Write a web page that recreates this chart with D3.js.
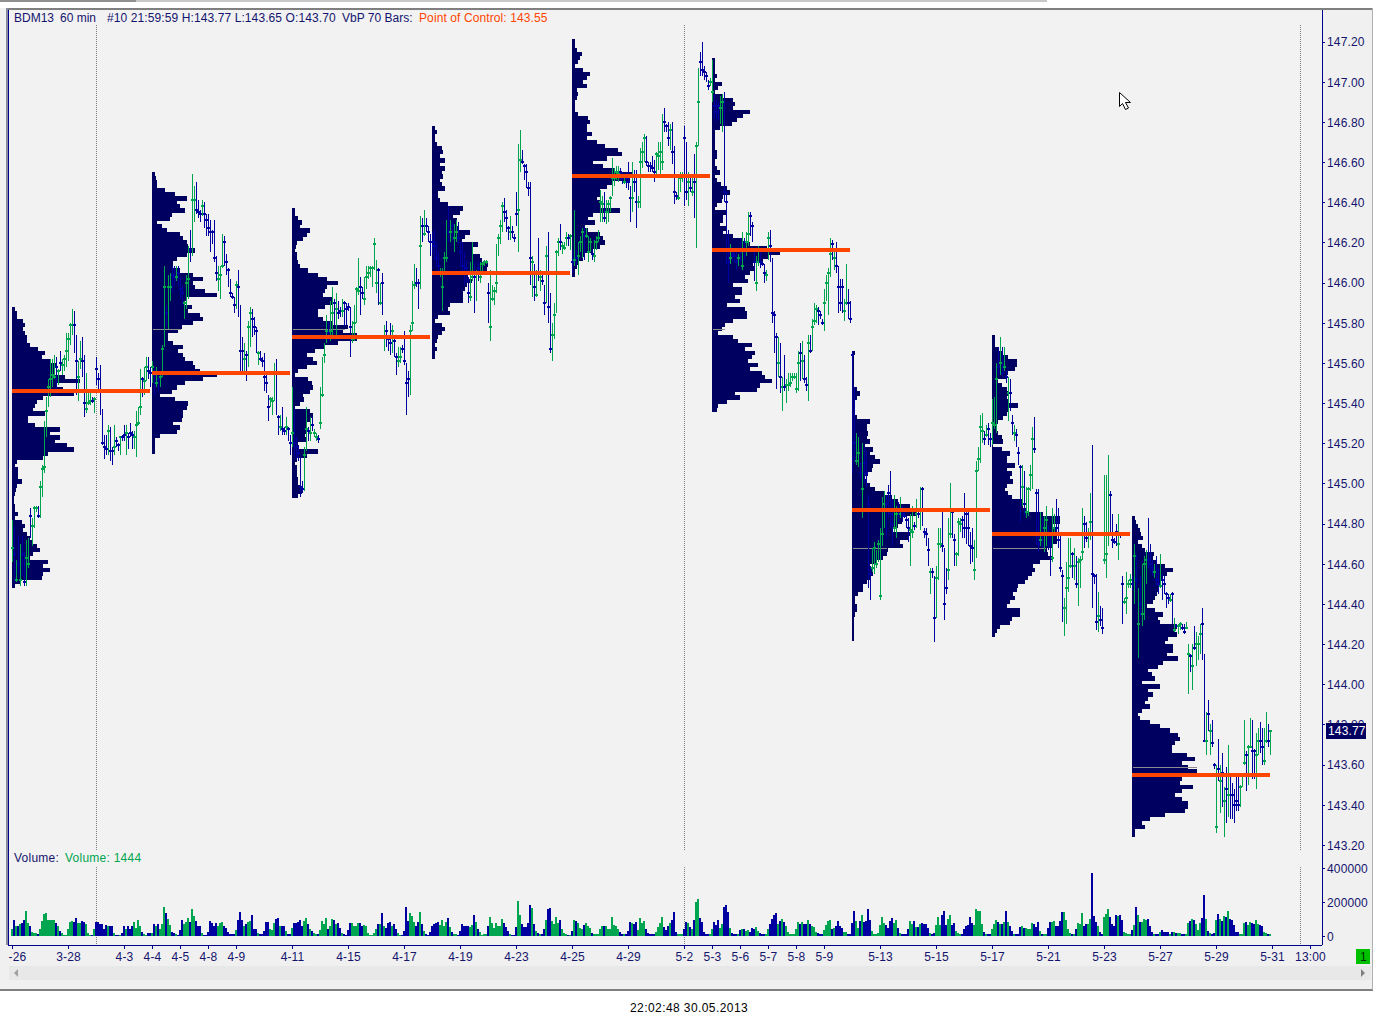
<!DOCTYPE html>
<html>
<head>
<meta charset="utf-8">
<title>BDM13 60 min</title>
<script src="https://cdn.jsdelivr.net/npm/d3@7/dist/d3.min.js"></script>
<style>
  html, body { margin: 0; padding: 0; background: #fff; }
  svg { display: block; }
  text { font-family: "Liberation Sans", Arial, sans-serif; font-size: 12px; }
</style>
</head>
<body>
<div id="chart"></div>
<script>
// bars are [high, low, close, up] in hundredths above 140.00, one session = 70 hourly bars
var session1Bars = [
[482,461,468,1],[479,451,465,0],[462,451,452,1],[474,455,460,0],[470,449,452,1],[474,454,465,0],[466,449,451,0],[472,449,463,1],[473,458,460,1],[488,473,484,0],
[483,469,479,1],[489,478,488,1],[489,486,488,1],[489,483,484,0],[501,483,498,1],[509,493,507,1],[531,505,508,1],[543,523,536,1],[552,538,548,1],[562,543,552,1],
[562,548,554,1],[564,552,553,1],[563,544,558,0],[557,549,556,1],[566,556,560,0],[562,554,559,1],[564,556,562,1],[575,558,566,1],[575,561,572,1],[580,569,579,1],
[587,574,579,1],[586,565,579,0],[574,544,561,0],[561,541,553,1],[571,557,562,1],[573,553,561,0],[564,533,540,0],[555,535,537,1],[546,539,540,1],[546,539,541,1],
[543,540,541,0],[543,535,542,1],[563,549,557,0],[555,545,552,0],[559,534,546,0],[537,519,520,0],[524,512,518,0],[524,514,517,0],[529,514,526,1],[528,511,516,0],
[518,509,516,0],[529,514,518,1],[523,518,521,0],[520,516,519,0],[523,514,523,1],[524,521,523,0],[529,521,524,0],[529,514,525,1],[525,517,523,0],[530,523,525,0],
[526,517,524,0],[526,517,523,1],[536,513,529,1],[538,529,530,1],[557,534,538,1],[553,543,552,0],[558,544,551,1],[563,551,558,1],[563,552,556,0],[558,548,555,0]];
var session2Bars = [
[561,550,558,1],[558,544,554,0],[558,548,550,1],[556,546,552,0],[554,548,553,1],[569,553,567,1],[608,568,598,1],[589,578,585,0],[604,577,598,1],[605,591,598,1],
[608,595,604,0],[608,599,603,0],[608,601,603,1],[608,598,605,0],[603,592,597,0],[599,589,595,0],[591,582,590,1],[604,587,600,1],[618,592,602,1],[626,610,616,0],
[654,613,641,1],[648,630,641,1],[650,634,636,0],[641,632,635,0],[636,630,634,0],[641,633,638,1],[640,627,634,0],[634,623,631,0],[634,623,627,0],[631,615,625,0],
[626,619,625,0],[631,610,612,0],[613,601,605,0],[608,596,602,1],[608,592,604,1],[624,607,608,1],[623,608,620,0],[614,604,610,0],[607,598,606,0],[602,593,595,0],
[595,592,593,0],[593,585,589,0],[601,587,599,1],[606,583,598,0],[589,555,566,0],[573,555,566,0],[570,556,562,1],[566,551,564,0],[581,558,578,1],[588,568,585,1],
[587,573,582,0],[583,574,578,0],[578,565,576,0],[566,559,565,1],[566,561,562,0],[563,558,561,0],[565,546,553,0],[556,545,550,0],[544,531,538,0],[543,538,542,1],
[543,534,541,1],[560,541,555,1],[562,534,555,0],[534,524,533,0],[534,526,528,1],[538,524,527,0],[528,524,526,0],[533,524,528,1],[528,521,527,0],[524,514,520,0]];
var session3Bars = [
[548,518,525,1],[538,513,520,0],[523,512,518,0],[519,511,515,0],[513,493,498,0],[501,495,497,0],[518,496,514,1],[538,516,527,1],[528,521,526,0],[533,521,525,1],
[533,526,529,0],[527,523,525,1],[525,521,523,1],[524,520,522,0],[548,527,530,1],[563,543,544,1],[570,560,564,1],[584,570,576,1],[581,571,575,0],[591,571,576,1],
[598,573,585,1],[592,579,590,0],[595,572,587,1],[591,582,585,0],[588,583,586,0],[592,583,586,1],[591,578,590,0],[590,579,587,0],[590,586,588,0],[588,563,578,0],
[581,570,572,1],[589,571,580,1],[598,580,597,1],[612,594,596,1],[603,584,598,0],[598,592,595,0],[603,589,592,1],[608,597,603,1],[608,602,605,1],[608,603,607,1],
[608,598,607,1],[622,606,619,1],[611,595,600,1],[607,589,606,0],[600,589,590,1],[605,584,600,0],[579,566,573,1],[581,568,576,0],[574,566,572,0],[580,564,570,0],
[579,565,576,1],[574,563,571,0],[565,554,563,0],[568,558,561,1],[568,560,563,1],[569,565,567,0],[576,559,561,0],[560,534,550,0],[556,543,552,0],[579,544,576,1],
[601,576,580,1],[609,597,599,1],[607,598,600,0],[602,587,600,0],[633,597,618,1],[632,620,628,0],[636,623,624,1],[632,625,628,0],[628,620,625,0],[624,613,620,0]];
var session4Bars = [
[625,614,620,0],[626,611,618,0],[620,608,612,0],[615,605,608,0],[607,603,605,1],[607,586,598,1],[615,605,612,1],[631,610,612,1],[638,620,625,0],[631,620,625,1],
[630,621,628,0],[629,615,622,1],[631,620,625,1],[630,619,622,0],[620,608,615,0],[620,604,608,0],[615,599,605,0],[611,600,607,0],[603,590,595,0],[610,591,593,1],
[620,601,603,1],[610,585,603,0],[606,591,605,1],[610,601,607,0],[610,600,603,1],[610,604,609,1],[611,608,610,1],[611,609,610,1],[600,580,595,0],[606,571,578,1],
[599,591,592,1],[598,589,596,1],[619,595,600,1],[624,613,622,1],[631,619,628,1],[640,625,638,1],[642,630,635,0],[636,625,632,0],[628,621,627,0],[633,621,625,1],
[628,622,625,0],[624,620,622,0],[645,628,634,0],[669,615,636,1],[676,655,661,1],[666,659,660,0],[659,651,658,0],[659,647,655,0],[650,643,647,0],[650,599,612,0],
[613,593,610,1],[609,591,598,0],[606,593,594,1],[622,601,605,0],[606,596,603,1],[604,599,601,0],[599,584,590,0],[618,590,613,1],[625,580,588,0],[595,565,567,0],
[580,561,574,1],[590,572,584,1],[616,585,615,1],[622,613,620,1],[629,616,620,0],[620,614,618,1],[620,616,617,1],[625,618,622,1],[624,618,622,0],[624,616,623,1]];
var session5Bars = [
[616,605,610,0],[636,608,611,1],[616,608,612,0],[620,604,613,1],[623,615,620,1],[627,612,625,1],[628,611,623,0],[627,622,623,1],[623,610,615,1],[622,615,620,1],
[616,611,614,0],[621,610,613,1],[623,616,620,1],[626,620,622,1],[646,630,640,1],[643,630,639,1],[645,630,632,0],[641,629,635,1],[641,630,639,1],[643,635,642,1],
[662,643,652,1],[657,648,652,1],[658,651,655,1],[658,650,654,1],[657,651,655,0],[655,649,652,0],[653,649,650,1],[655,647,652,0],[660,646,650,0],[648,630,642,0],
[660,635,642,1],[656,645,650,0],[656,627,640,0],[643,637,640,1],[667,637,660,1],[670,657,665,1],[674,660,672,1],[673,658,660,0],[660,655,658,0],[660,655,658,0],
[663,655,657,0],[661,650,655,0],[665,652,664,1],[670,656,663,1],[670,653,665,1],[684,656,660,1],[687,675,680,0],[679,675,678,0],[680,668,672,0],[679,666,676,1],
[680,659,665,0],[668,639,645,0],[645,641,643,0],[654,641,642,1],[655,645,652,1],[655,650,653,1],[678,638,672,0],[670,641,645,0],[655,638,650,1],[653,645,647,0],
[654,643,645,1],[664,632,650,0],[670,617,668,1],[707,668,690,1],[715,703,710,0],[720,703,706,0],[708,701,705,0],[705,700,703,0],[701,696,698,0],[702,698,700,1]];
var session6Bars = [
[711,690,695,1],[694,682,688,0],[691,680,685,0],[690,681,688,0],[693,679,687,1],[694,675,690,1],[695,640,645,0],[645,609,640,0],[626,600,610,0],[619,609,612,1],
[616,610,614,0],[615,610,613,0],[616,606,610,0],[614,608,612,1],[622,610,615,0],[625,606,608,1],[622,611,620,0],[625,613,620,1],[635,618,624,1],[635,623,633,0],
[630,620,628,0],[616,601,610,0],[613,596,600,1],[618,608,610,1],[615,607,610,0],[610,608,609,0],[609,600,605,0],[606,601,604,1],[625,611,622,1],[626,610,618,0],
[612,580,585,0],[586,565,584,0],[575,547,573,0],[573,553,560,1],[570,545,553,0],[553,536,548,1],[564,546,548,0],[552,540,549,1],[555,546,549,1],[555,548,550,1],
[555,551,553,1],[555,552,553,1],[555,545,547,1],[566,546,560,1],[570,551,565,0],[571,552,561,1],[564,550,552,0],[553,546,549,0],[574,541,570,1],[574,565,566,0],
[582,566,578,1],[590,579,581,1],[589,580,587,1],[588,579,586,0],[586,582,584,0],[582,579,580,0],[597,576,590,1],[604,591,600,1],[607,584,605,1],[622,603,614,1],
[621,611,619,0],[616,606,612,1],[620,605,608,0],[608,585,598,0],[602,586,590,0],[602,585,598,0],[592,581,586,1],[609,589,590,1],[597,582,590,0],[591,580,582,0]];
var session7Bars = [
[566,505,564,0],[548,510,520,0],[525,509,511,1],[523,508,515,1],[510,502,505,0],[520,483,497,1],[518,500,510,0],[516,498,505,0],[494,448,490,0],[459,442,455,0],
[468,456,458,1],[471,455,468,1],[467,458,460,1],[472,461,470,1],[478,442,444,1],[493,469,475,1],[496,478,490,1],[494,473,490,0],[499,483,495,0],[506,478,485,0],
[492,469,480,0],[494,476,478,1],[489,473,485,1],[491,481,487,0],[493,483,485,1],[489,481,485,0],[487,483,484,0],[484,478,482,0],[483,471,478,0],[485,459,477,1],
[489,473,476,1],[481,477,479,0],[492,478,485,1],[488,483,485,0],[498,477,487,1],[498,479,497,0],[478,473,476,0],[478,469,475,0],[473,459,467,0],[458,445,456,1],
[458,453,456,0],[454,421,433,0],[459,433,453,1],[478,452,470,1],[478,468,470,1],[487,466,469,0],[468,432,440,0],[458,445,448,0],[483,452,457,1],[500,473,475,1],
[488,473,486,0],[475,459,472,0],[466,459,465,1],[483,464,481,1],[483,476,480,1],[484,473,482,0],[495,473,478,0],[488,470,485,0],[488,469,478,0],[476,460,469,0],
[478,461,468,0],[472,452,457,1],[511,463,506,1],[518,506,512,1],[534,510,528,1],[535,520,526,1],[526,519,522,0],[529,523,524,1],[530,519,527,0],[525,518,522,0]];
var session8Bars = [
[542,519,530,1],[543,527,529,1],[560,525,552,1],[568,554,558,0],[573,554,560,1],[568,553,555,0],[568,556,558,1],[556,550,553,0],[553,531,545,1],[552,536,545,0],
[534,524,530,0],[529,521,525,1],[527,518,524,0],[518,509,515,0],[509,481,508,0],[509,489,498,1],[506,484,490,0],[498,483,486,1],[498,484,497,1],[509,496,504,1],
[528,497,522,1],[533,515,517,0],[497,470,495,0],[497,466,470,0],[486,469,472,1],[483,468,475,0],[484,466,478,1],[489,469,482,1],[479,467,475,0],[476,454,470,0],
[488,461,463,1],[485,474,478,1],[492,474,478,0],[488,468,472,0],[476,456,458,0],[457,431,454,0],[443,424,438,1],[461,430,448,1],[473,446,453,1],[473,458,459,1],
[466,453,465,0],[468,452,459,1],[464,448,450,0],[463,439,461,1],[464,448,462,1],[488,462,466,1],[484,468,480,0],[481,471,473,0],[478,468,475,1],[495,472,481,1],
[519,438,455,0],[455,450,454,0],[455,427,431,0],[446,426,434,1],[439,429,432,0],[438,425,428,0],[504,460,462,1],[504,453,465,1],[514,469,475,1],[496,474,494,0],
[485,468,472,0],[473,470,471,0],[480,469,476,0],[485,462,470,1],[476,473,475,0],[454,430,450,0],[443,440,441,1],[456,435,443,1],[452,448,450,1],[455,448,452,1]];
var session9Bars = [
[454,447,450,0],[470,440,464,1],[465,447,452,0],[448,413,430,1],[454,434,440,0],[460,429,435,1],[464,432,460,1],[467,450,462,1],[483,458,462,0],[470,455,460,0],
[462,454,458,0],[460,453,456,1],[464,449,452,0],[458,445,450,0],[465,448,449,1],[455,442,452,0],[454,445,450,0],[446,438,445,0],[445,440,443,0],[445,441,442,1],
[446,430,445,0],[433,426,427,1],[430,428,429,0],[430,425,429,1],[431,427,430,1],[430,427,428,0],[430,425,426,0],[431,428,428,1],[420,395,415,1],[415,406,414,0],
[420,397,409,1],[429,417,418,0],[426,409,420,1],[424,412,420,1],[430,415,425,1],[438,412,430,0],[415,372,372,0],[386,365,372,1],[392,377,385,0],[380,365,377,1],
[382,369,371,0],[361,358,360,0],[360,326,329,1],[373,352,358,0],[360,336,352,1],[366,339,356,0],[349,324,342,1],[359,331,348,0],[370,334,345,1],[356,333,355,0],
[351,333,345,0],[348,331,340,0],[354,337,342,0],[354,337,340,0],[350,339,349,1],[356,349,355,1],[382,360,361,1],[367,347,365,0],[370,350,369,1],[383,369,369,1],
[382,353,367,0],[368,353,367,0],[376,348,365,1],[378,365,372,1],[381,366,372,0],[378,360,369,0],[378,360,362,1],[386,371,372,1],[380,369,372,0],[377,365,377,1]];

// volume per hourly bar, in units of 2000 contracts
var volumeUnit = 2000;
var session1Volume = [20,48,28,30,34,38,48,75,38,30,12,10,8,5,20,45,65,68,48,48,46,46,38,28,14,8,4,4,22,40,45,42,54,38,38,45,42,35,8,4,4,20,40,40,35,35,20,32,28,28,28,8,4,4,4,10,30,22,28,20,30,40,25,46,30,12,6,3,10,10];
var session2Volume = [8,35,30,34,22,34,85,68,50,32,13,8,5,4,18,47,35,40,52,40,78,58,45,30,30,8,4,4,12,45,38,28,38,28,38,42,28,25,12,5,5,5,18,48,72,48,30,35,40,45,62,22,22,8,5,5,15,42,42,22,18,38,50,54,30,30,28,15,5,5];
var session3Volume = [25,38,38,42,48,30,45,54,35,22,15,8,5,5,18,44,35,54,22,28,50,48,35,38,25,8,5,3,18,38,38,28,28,38,38,30,32,30,8,4,4,8,20,35,35,68,28,25,38,42,30,35,22,10,4,4,15,85,45,68,60,40,28,40,70,36,15,6,4,12];
var session4Volume = [28,35,38,40,32,48,30,42,54,27,12,5,5,4,15,36,30,30,28,27,33,62,42,21,12,4,6,6,30,57,38,24,38,30,30,51,39,27,15,6,4,4,27,102,63,36,27,27,38,90,81,36,15,9,6,6,21,48,78,81,45,36,57,39,48,21,9,6,4,4];
var session5Volume = [15,48,45,39,24,21,33,39,30,24,9,6,6,6,21,30,30,30,21,20,57,33,30,21,12,6,6,6,15,42,39,36,42,18,54,39,45,21,9,6,6,6,12,27,39,57,27,18,30,39,48,72,12,6,6,6,21,42,39,27,21,48,99,108,54,42,12,6,6,6];
var session6Volume = [21,42,33,48,24,36,84,90,72,24,9,6,6,6,18,21,21,15,18,12,24,21,27,15,9,6,6,6,21,36,51,63,69,36,45,51,42,30,12,6,6,6,21,42,36,42,36,36,48,36,30,27,12,9,6,6,18,33,45,48,21,24,30,45,30,24,12,12,6,6];
var session7Volume = [39,75,45,24,45,63,42,45,78,48,15,6,6,9,33,57,39,33,24,45,54,39,48,24,9,6,6,6,21,45,36,45,27,27,36,39,36,36,24,9,6,9,33,57,33,63,75,33,51,63,33,39,15,9,6,6,21,30,33,57,39,33,78,75,75,36,12,6,6,6];
var session8Volume = [21,36,48,42,36,36,42,75,42,30,15,6,6,6,27,30,24,24,21,21,39,36,27,42,15,6,6,6,24,42,42,45,30,30,45,72,72,48,21,9,6,6,21,39,36,69,30,36,36,51,186,60,42,30,12,6,57,66,78,57,36,30,63,60,63,48,12,9,6,6];
var session9Volume = [18,33,84,63,42,42,51,48,51,30,12,6,6,6,12,18,12,12,12,6,12,12,9,9,9,6,6,6,39,45,51,48,36,18,39,54,120,51,15,9,6,9,48,66,51,45,60,57,75,51,48,33,12,12,6,6,39,42,33,42,39,36,48,36,33,30,12,9,6,6];

// volume-by-price rows, top row first, each row two ticks (0.02) deep
var profile1 = [3,5,5,11,13,11,13,15,15,18,26,33,30,38,45,43,43,53,68,45,51,62,31,25,23,21,33,16,16,23,48,38,48,43,55,62,36,31,5,3,6,6,6,10,5,4,3,2,2,3,3,6,3,10,13,11,15,18,20,25,28,21,18,36,31,38,31,30,8,3];
var profile2 = [3,4,5,5,13,23,35,25,28,33,20,18,5,10,15,28,31,35,36,43,35,25,21,21,28,41,51,41,43,53,65,35,33,40,36,48,51,41,30,26,16,16,21,31,26,31,33,41,43,48,65,51,33,25,20,8,23,36,35,31,31,30,21,28,25,8,3,3,3,3];
var profile3 = [3,3,6,10,8,18,15,11,5,4,3,5,5,6,8,16,26,35,46,35,33,31,40,40,33,26,26,31,41,56,51,65,65,46,33,23,15,21,25,15,6,3,16,20,21,18,11,12,8,3,18,21,18,15,15,15,13,15,6,6,26,15,5,3,5,5,5,6,6,8,10,6];
var profile4 = [3,5,3,3,5,10,11,8,13,8,13,10,11,8,10,13,6,6,8,16,31,28,21,25,25,26,38,33,30,46,40,41,48,50,56,55,51,36,40,35,33,31,31,31,18,16,18,6,3,10,13,10,6,5,3,5,3,3];
var profile5 = [3,3,5,10,8,6,3,11,18,15,11,15,5,6,5,3,3,3,6,16,18,15,15,20,15,25,33,46,50,35,21,31,43,61,58,41,35,28,28,25,28,28,48,21,16,23,13,16,28,31,33,28,21,13,11,6,5,3,3];
var profile6 = [3,3,3,3,5,3,10,6,3,10,21,23,21,38,31,25,20,8,3,3,3,3,3,5,5,3,3,5,8,3,5,9,15,18,11,10,5,3,15,11,11,8,15,11,21,30,38,55,68,56,51,41,43,38,33,36,21,30,30,23,28,15,33,35,35,21,13,10,6,21,26,40,33,43,40,36,46,38,50,53,60,48,45,23,28,15,6,5];
var profile7 = [3,2,2,2,2,2,2,2,2,5,8,5,3,2,2,2,5,18,15,15,16,15,18,13,21,18,23,28,21,20,16,13,15,18,23,33,40,46,58,51,65,51,50,46,41,58,56,48,51,36,35,31,25,18,20,21,18,15,11,11,6,3,3,5,5,3,2,2,2,2,2,2];
var profile8 = [3,3,3,6,10,16,25,25,23,16,15,6,10,15,16,15,16,26,16,15,11,6,5,5,6,10,11,1,10,18,15,15,23,15,20,18,21,15,13,16,20,30,31,35,51,68,68,61,65,66,65,65,60,55,56,60,48,41,43,40,36,33,26,25,21,23,18,15,28,28,20,18,8,5,3];
var profile9 = [3,4,6,8,9,11,6,10,13,22,21,25,33,41,35,30,28,26,26,25,23,21,15,23,31,26,28,45,43,45,36,33,41,41,35,46,31,26,16,20,23,10,28,16,21,16,13,18,10,6,8,18,28,38,46,48,43,40,40,55,63,50,56,65,60,50,48,61,50,43,50,56,56,53,33,18,10,13,3,3];
var profileTops = [588,655,637,678,721,712,566,574,484];
var pocLevels = [546,555,573,605,653,616,487,475,355];
// thin grey marker inside some of the profiles: [profile, level, width]
var greyLevels = [[1,577,28],[2,577,52],[5,577,12],[6,468,34],[7,468,53],[8,359,64]];

var priceTicks = [147.2,147,146.8,146.6,146.4,146.2,146,145.8,145.6,145.4,145.2,145,144.8,144.6,144.4,144.2,144,143.8,143.6,143.4,143.2];
var volumeTicks = [0,200000,400000];
var timeTickBars = [0,28,56,70,84,98,112,140,168,196,224,252,280,308,336,350,364,378,392,406,434,462,490,518,546,574,602,630,649];
var timeTickLabels = ["-26","3-28","4-3","4-4","4-5","4-8","4-9","4-11","4-15","4-17","4-19","4-23","4-25","4-29","5-2","5-3","5-6","5-7","5-8","5-9","5-13","5-15","5-17","5-21","5-23","5-27","5-29","5-31","13:00"];
var sessionLines = [42,336,644];

var width = 1378, height = 1025;
var blue = "#0000a0", green = "#00a550", navy = "#000060", orange = "#ff4500", axisBlue = "#00008b", textBlue = "#14146e";

var allBars = [].concat(session1Bars, session2Bars, session3Bars, session4Bars, session5Bars, session6Bars, session7Bars, session8Bars, session9Bars);
var allVolume = [].concat(session1Volume, session2Volume, session3Volume, session4Volume, session5Volume, session6Volume, session7Volume, session8Volume, session9Volume);
var profiles = [profile1, profile2, profile3, profile4, profile5, profile6, profile7, profile8, profile9];

var x = d3.scaleLinear().domain([0, 630]).range([12, 1272]);
var y = d3.scaleLinear().domain([143.2, 147.2]).range([845, 41.5]);
var yVol = d3.scaleLinear().domain([0, 400000]).range([936, 868]);
var profileW = d3.scaleLinear().domain([0, 100]).range([0, 100]);
function yLevel(v) { return y(140 + v / 100); }

var svg = d3.select("#chart").append("svg")
  .attr("width", width)
  .attr("height", height);

// window frame
svg.append("rect").attr("width", 1047).attr("height", 2).attr("fill", "#c8c8c8");
svg.append("rect").attr("width", 136).attr("height", 2).attr("fill", "#909090");
svg.append("rect").attr("x", 0).attr("y", 8).attr("width", 1373).attr("height", 982).attr("fill", "#f0f0f0");
svg.append("rect").attr("x", 6).attr("y", 8).attr("width", 1367).attr("height", 2).attr("fill", "#7f7f7f");
svg.append("rect").attr("x", 6).attr("y", 8).attr("width", 2).attr("height", 937).attr("fill", "#8a8aa0");
svg.append("rect").attr("x", 9).attr("y", 10).attr("width", 1313).attr("height", 935).attr("fill", "#f2f2f2");
svg.append("rect").attr("x", 0).attr("y", 989).attr("width", 1373).attr("height", 2).attr("fill", "#808080");
svg.append("rect").attr("x", 1372).attr("y", 8).attr("width", 1).attr("height", 982).attr("fill", "#b0b0b0");
svg.append("rect").attr("x", 8).attr("y", 10).attr("width", 1).attr("height", 935).attr("fill", axisBlue);

// scroll bar
svg.append("rect").attr("x", 9).attr("y", 966).attr("width", 1362).attr("height", 14).attr("fill", "#e8e8e8");
svg.append("path").attr("d", "M18,969 L14,973 L18,977 Z").attr("fill", "#a0a0a0");
svg.append("path").attr("d", "M1361,969 L1365,973 L1361,977 Z").attr("fill", "#808080");

// session separators
sessionLines.forEach(function(s) {
  [[25, 850], [867, 944]].forEach(function(seg) {
    svg.append("line")
      .attr("x1", Math.round(x(s)) + 0.5).attr("x2", Math.round(x(s)) + 0.5)
      .attr("y1", seg[0]).attr("y2", seg[1])
      .attr("stroke", "#808080")
      .attr("stroke-dasharray", "1,1");
  });
});

// volume by price
var profileG = svg.append("g").attr("shape-rendering", "crispEdges");
profiles.forEach(function(rows, p) {
  profileG.selectAll(null)
    .data(rows)
    .enter().append("rect")
      .attr("x", x(p * 70))
      .attr("y", function(d, k) { return yLevel(profileTops[p] - 2 * k); })
      .attr("width", function(d) { return profileW(d); })
      .attr("height", function(d, k) { return yLevel(profileTops[p] - 2 * k - 2) - yLevel(profileTops[p] - 2 * k) + 0.5; })
      .attr("fill", navy);
});
svg.append("g").selectAll("rect")
  .data(greyLevels)
  .enter().append("rect")
    .attr("x", function(d) { return x(d[0] * 70) + 1; })
    .attr("y", function(d) { return Math.round(yLevel(d[1])); })
    .attr("width", function(d) { return profileW(d[2]); })
    .attr("height", 1)
    .attr("fill", "#8c8c8c");

// price bars
var barG = svg.append("g").attr("shape-rendering", "crispEdges");
barG.selectAll(".hl")
  .data(allBars)
  .enter().append("rect")
    .attr("class", "hl")
    .attr("x", function(d, i) { return x(i); })
    .attr("y", function(d) { return yLevel(d[0]); })
    .attr("width", 1)
    .attr("height", function(d) { return yLevel(d[1]) - yLevel(d[0]); })
    .attr("fill", function(d) { return d[3] ? green : blue; });
barG.selectAll(".cl")
  .data(allBars)
  .enter().append("rect")
    .attr("class", "cl")
    .attr("x", function(d, i) { return x(i) - 1; })
    .attr("y", function(d) { return yLevel(d[2]) - 1; })
    .attr("width", 3)
    .attr("height", 2)
    .attr("fill", function(d) { return d[3] ? green : blue; });

// points of control
svg.append("g").selectAll("rect")
  .data(pocLevels)
  .enter().append("rect")
    .attr("x", function(d, i) { return x(i * 70); })
    .attr("y", function(d) { return yLevel(d) - 2; })
    .attr("width", function(d, i) { return i == 8 ? x(629) - x(560) : x(69) - x(0); })
    .attr("height", 4)
    .attr("shape-rendering", "crispEdges")
    .attr("fill", orange);

// volume bars
svg.append("g").attr("shape-rendering", "crispEdges").selectAll("rect")
  .data(allVolume)
  .enter().append("rect")
    .attr("x", function(d, i) { return x(i) - 1; })
    .attr("y", function(d) { return yVol(d * volumeUnit); })
    .attr("width", 2)
    .attr("height", function(d) { return yVol(0) - yVol(d * volumeUnit); })
    .attr("fill", function(d, i) { return allBars[i][3] ? green : blue; });

// axes
function styleAxis(g) {
  g.selectAll("path").attr("stroke", axisBlue).attr("shape-rendering", "crispEdges");
  g.selectAll("line").attr("stroke", axisBlue).attr("shape-rendering", "crispEdges");
  g.selectAll("text").attr("fill", textBlue).style("font-size", "12px").style("letter-spacing", "0.15px");
}
var priceAxis = svg.append("g")
  .attr("transform", "translate(1322,0)")
  .call(d3.axisRight(y).tickValues(priceTicks).tickFormat(d3.format(".2f")).tickSize(3).tickPadding(2).tickSizeOuter(0));
styleAxis(priceAxis);
priceAxis.select("path").attr("d", "M0.5,10V945");
priceAxis.selectAll("text").attr("y", 0.5);

var volAxis = svg.append("g")
  .attr("transform", "translate(1322,0)")
  .call(d3.axisRight(yVol).tickValues(volumeTicks).tickFormat(d3.format("d")).tickSize(3).tickPadding(2).tickSizeOuter(0));
styleAxis(volAxis);
volAxis.select("path").remove();
volAxis.selectAll("text").attr("y", 0.5);

var timeAxis = svg.append("g")
  .attr("transform", "translate(0,945)")
  .call(d3.axisBottom(x).tickValues(timeTickBars).tickFormat(function(d) { return timeTickLabels[timeTickBars.indexOf(d)]; }).tickSize(4).tickPadding(3).tickSizeOuter(0));
styleAxis(timeAxis);
timeAxis.select("path").attr("d", "M8,0.5H1322");
timeAxis.select(".tick text").attr("dx", 5);

// last price tag
svg.append("rect").attr("x", 1326).attr("y", 723).attr("width", 40).attr("height", 16).attr("fill", "#000060");
svg.append("text").attr("x", 1328).attr("y", 735).attr("fill", "#fff").style("letter-spacing", "0.15px").text("143.77");

// header
var header = svg.append("text").attr("x", 14).attr("y", 22).attr("fill", textBlue).attr("xml:space", "preserve");
header.append("tspan").text("BDM13");
header.append("tspan").attr("x", 60).text("60 min");
header.append("tspan").attr("x", 107).style("letter-spacing", "0.1px").text("#10 21:59:59 H:143.77 L:143.65 O:143.70");
header.append("tspan").attr("x", 342).text("VbP 70 Bars:");
header.append("tspan").attr("x", 419).attr("fill", orange).style("letter-spacing", "0.1px").text("Point of Control: 143.55");
var volTitle = svg.append("text").attr("x", 14).attr("y", 862).attr("fill", textBlue).style("letter-spacing", "0.25px");
volTitle.append("tspan").text("Volume:");
volTitle.append("tspan").attr("x", 65).attr("fill", "#00a550").text("Volume: 1444");

// page badge and time stamp
svg.append("rect").attr("x", 1356).attr("y", 949).attr("width", 14).attr("height", 15).attr("fill", "#00c000");
svg.append("text").attr("x", 1360).attr("y", 961).attr("fill", "#003000").text("1");
svg.append("text").attr("x", 630).attr("y", 1012).attr("fill", "#000").style("letter-spacing", "0.42px").text("22:02:48 30.05.2013");

// mouse pointer left in the screenshot
svg.append("path")
  .attr("transform", "translate(1119.5,92.5)")
  .attr("d", "M0,0 V14 L3,11 L6,17 L9,15.5 L6,10 H11 Z")
  .attr("fill", "#fff")
  .attr("stroke", "#000");
</script>
</body>
</html>
